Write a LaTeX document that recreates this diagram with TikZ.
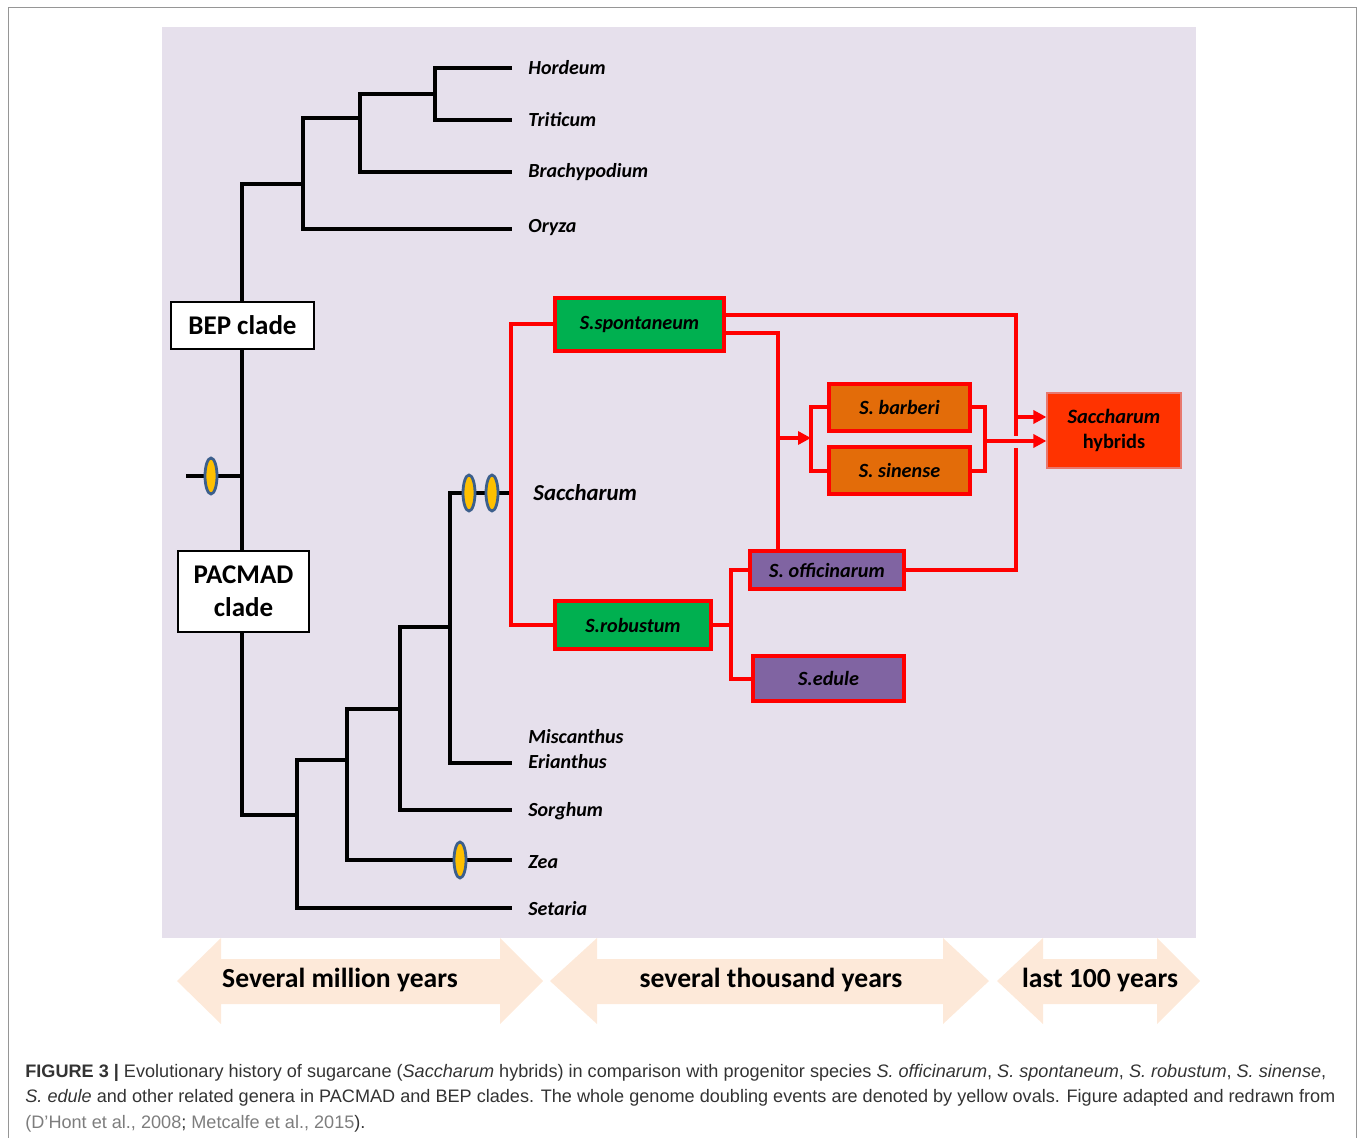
\documentclass[tikz,border=0pt]{standalone}
\usepackage{fontspec}
\setmainfont{Carlito}
\newfontfamily\capfont{Liberation Sans}
\usepackage{xcolor}
\usetikzlibrary{shapes.geometric, arrows.meta, positioning}
\definecolor{bgpurple}{RGB}{230,224,236}
\definecolor{spgreen}{RGB}{0,176,80}
\definecolor{sporange}{RGB}{227,108,9}
\definecolor{sppurple}{RGB}{128,100,162}
\definecolor{hybred}{RGB}{255,51,0}
\definecolor{hybedge}{RGB}{232,120,110}
\definecolor{ovalfill}{RGB}{255,192,0}
\definecolor{ovalrim}{RGB}{60,95,140}
\definecolor{peach}{RGB}{253,233,217}
\definecolor{captext}{RGB}{51,51,51}
\definecolor{citegray}{RGB}{125,125,125}
\definecolor{framegray}{RGB}{150,150,150}

\tikzset{
  branch/.style={line width=2pt, black},
  link/.style={line width=2pt, red},
  linkarrow/.style={link, -{Triangle[length=6.5pt,width=6.5pt]}},
  taxon/.style={anchor=west, inner sep=0pt, font=\fontsize{10}{12}\selectfont\bfseries\itshape},
  species/.style={rectangle, draw=red, line width=2pt, inner sep=0pt,
    font=\fontsize{10.1}{12}\selectfont\bfseries\itshape},
  cladebox/.style={rectangle, draw=black, fill=white, line width=0.6pt, inner sep=0pt,
    align=center, font=\fontsize{13.5}{16.5}\selectfont\bfseries},
  wgd/.style={ellipse, draw=ovalrim, fill=ovalfill, line width=1.4pt, inner sep=0pt,
    minimum width=6pt, minimum height=18pt},
  erabar/.style={fill=peach},
  eratext/.style={font=\fontsize{13.8}{16}\selectfont\bfseries, inner sep=0pt},
  captline/.style={anchor=base west, inner sep=0pt, text=captext,
    font=\capfont\fontsize{9.05}{11}\selectfont}
}

\begin{document}
\begin{tikzpicture}[x=0.5pt, y=-0.5pt]
  \useasboundingbox (0,0) rectangle (1358,1138);
  % frame and panel
  \draw[framegray, line width=0.5pt] (8,1140) -- (8,8) -- (1356,8) -- (1356,1140);
  \fill[bgpurple] (162,27) rectangle (1196,938);

  % BEP clade
  \coordinate (hordeum) at (512,68);
  \coordinate (triticum) at (512,120);
  \coordinate (brachy) at (512,172);
  \coordinate (oryza) at (512,229);
  \draw[branch] (hordeum) -| (435,120) -- (triticum);
  \draw[branch] (435,94) -- (360,94) |- (brachy);
  \draw[branch] (360,118) -- (303,118) |- (oryza);
  \draw[branch] (303,184) -- (242,184) -- (242,815) -- (297,815);
  \draw[branch] (186,476) -- (242,476);

  % PACMAD clade
  \coordinate (saccharum) at (510,493);
  \coordinate (miscanthus) at (512,763);
  \coordinate (sorghum) at (512,810);
  \coordinate (zea) at (512,860);
  \coordinate (setaria) at (512,908);
  \draw[branch] (347,760) -- (297,760) |- (setaria);
  \draw[branch] (400,709) -- (347,709) |- (zea);
  \draw[branch] (450,627) -- (400,627) |- (sorghum);
  \draw[branch] (saccharum) -- (450,493) |- (miscanthus);

  % taxon labels
  \node[taxon] (lHordeum) at (528,68) {Hordeum};
  \node[taxon] (lTriticum) at (528,120) {Triticum};
  \node[taxon] (lBrachy) at (528,172) {Brachypodium};
  \node[taxon] (lOryza) at (528,228) {Oryza};
  \node[taxon, font=\fontsize{11.4}{13}\selectfont\bfseries\itshape] (lSaccharum) at (533,493) {Saccharum};
  \node[taxon] (lMiscanthus) at (528,737) {Miscanthus};
  \node[taxon] (lErianthus) at (528,762) {Erianthus};
  \node[taxon] (lSorghum) at (528,811) {Sorghum};
  \node[taxon] (lZea) at (528,862) {Zea};
  \node[taxon] (lSetaria) at (528,909) {Setaria};

  % clade boxes
  \node[cladebox, minimum width=71.5pt, minimum height=23.5pt] (bep) at (242.5,325.5) {BEP clade};
  \node[cladebox, minimum width=65.5pt, minimum height=40.5pt] (pacmad) at (243.5,591.5) {PACMAD\\clade};

  % genome doublings
  \node[wgd] (wgd1) at (211,476) {};
  \node[wgd] (wgd2) at (469,493) {};
  \node[wgd] (wgd3) at (492,493) {};
  \node[wgd] (wgd4) at (460,860) {};

  % Saccharum species
  \node[species, fill=spgreen, minimum width=84.5pt, minimum height=26.5pt] (spont) at (639.5,324.5) {S.spontaneum};
  \node[species, fill=spgreen, minimum width=78pt, minimum height=24pt] (robust) at (633,625) {S.robustum};
  \node[species, fill=sporange, minimum width=70.5pt, minimum height=23.5pt] (barberi) at (899.5,407.5) {S. barberi};
  \node[species, fill=sporange, minimum width=70.5pt, minimum height=23.5pt] (sinense) at (899.5,470.5) {S. sinense};
  \node[species, fill=sppurple, minimum width=77pt, minimum height=19pt] (offic) at (827,570) {S. officinarum};
  \node[species, fill=sppurple, minimum width=75.5pt, minimum height=22.5pt] (edule) at (828.5,678.5) {S.edule};
  \node[rectangle, draw=hybedge, fill=hybred, line width=0.6pt, minimum width=67pt, minimum height=37.5pt,
        align=center, inner sep=0pt, font=\fontsize{10.2}{12.5}\selectfont\bfseries] (hybrids) at (1114,430.5)
        {\itshape Saccharum\\hybrids};

  % crosses
  \coordinate (sfork) at (511,475);
  \coordinate (rfork) at (731,625);
  \coordinate (ojoin) at (778,551);
  \coordinate (lbr) at (811,438);
  \coordinate (rbr) at (985,441);
  \coordinate (hjoin) at (1016,417);
  \draw[link] (spont.west) -| (sfork) |- (robust.west);
  \draw[link] (robust.east) -- (rfork);
  \draw[link] (offic.west) -| (rfork) |- (edule.west);
  \draw[link] ([yshift=-4.25pt]spont.east) -| (ojoin);
  \draw[linkarrow] (778,438) -- (lbr);
  \draw[link] (barberi.west) -| (lbr) |- (sinense.west);
  \draw[link] (barberi.east) -| (rbr) |- (sinense.east);
  \draw[linkarrow] (rbr) -- ([yshift=-5.25pt]hybrids.west);
  \draw[link] ([yshift=4.75pt]spont.east) -| (hjoin) -- (1016,436);
  \draw[link] (offic.east) -| (1016,448);
  \draw[linkarrow] (hjoin) -- ([yshift=6.75pt]hybrids.west);

  % time scale
  \fill[erabar] (177,981) -- (221,938) -- (221,959) -- (500,959) -- (500,938) -- (543,981)
    -- (500,1024) -- (500,1004) -- (221,1004) -- (221,1024) -- cycle;
  \fill[erabar] (550,981) -- (597,938) -- (597,959) -- (943,959) -- (943,938) -- (989,981)
    -- (943,1024) -- (943,1004) -- (597,1004) -- (597,1024) -- cycle;
  \fill[erabar] (997,981) -- (1043,938) -- (1043,959) -- (1157,959) -- (1157,938) -- (1200,981)
    -- (1157,1024) -- (1157,1004) -- (1043,1004) -- (1043,1024) -- cycle;
  \node[eratext] (era1) at (340,980) {Several million years};
  \node[eratext] (era2) at (771,980) {several thousand years};
  \node[eratext] (era3) at (1100,980) {last 100 years};

  % caption
  \node[captline] (cap1) at (25,1077) {\textbf{FIGURE 3 |} Evolutionary history of sugarcane (\textit{Saccharum} hybrids) in comparison with progenitor species \textit{S. officinarum}, \textit{S. spontaneum}, \textit{S. robustum}, \textit{S. sinense},};
  \node[captline] (cap2) at (25,1102) {\textit{S. edule} and other related genera in PACMAD and BEP clades. The whole genome doubling events are denoted by yellow ovals. Figure adapted and redrawn from};
  \node[captline] (cap3) at (25,1128) {{\color{citegray}(D’Hont et al., 2008}; {\color{citegray}Metcalfe et al., 2015}).};
\end{tikzpicture}
\end{document}
